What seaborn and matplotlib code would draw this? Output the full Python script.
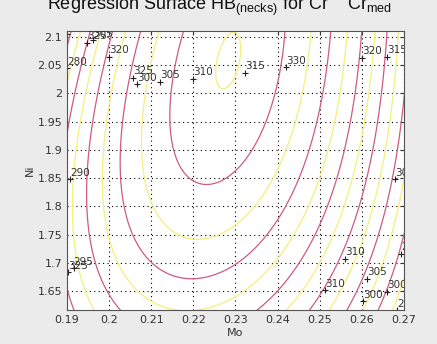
import numpy as np
import matplotlib
matplotlib.use("Agg")
import matplotlib.pyplot as plt
import seaborn as sns

# points traced along the magenta contours of the reference (Mo, Ni, HB level)
trace_level = [330] * 11 + [325] * 14 + [320] * 15 + [315] * 6 + [310] * 3
trace_mo = [0.2152, 0.2145, 0.2168, 0.2199, 0.2216, 0.2263, 0.2327, 0.2422, 0.2418, 0.2399, 0.2311,
            0.2090, 0.2057, 0.2038, 0.2031, 0.2057, 0.2114, 0.2180, 0.2263, 0.2311, 0.2399, 0.2439, 0.2486, 0.2510, 0.2534,
            0.1997, 0.1971, 0.1955, 0.1950, 0.1955, 0.1971, 0.2002, 0.2334, 0.2406, 0.2453, 0.2496, 0.2548, 0.2572, 0.2590, 0.2600,
            0.1947, 0.1919, 0.1902, 0.2667, 0.2636, 0.2603,
            0.2695, 0.2683, 0.2660]
trace_ni = [2.012, 1.936, 1.848, 2.112, 1.822, 1.831, 1.866, 2.112, 2.054, 1.972, 1.848,
            2.112, 2.054, 1.984, 1.848, 1.748, 1.690, 1.660, 1.672, 1.704, 1.787, 1.848, 1.936, 2.012, 2.112,
            2.072, 2.012, 1.936, 1.848, 1.787, 1.729, 1.623, 1.616, 1.676, 1.711, 1.778, 1.883, 1.950, 2.063, 2.120,
            2.105, 2.012, 1.924, 2.086, 1.945, 1.778,
            2.016, 1.945, 1.778]

magenta_levels = [280, 285, 290, 295, 300, 305, 310, 315, 320, 325, 330]
yellow_levels = [282.5, 287.5, 292.5, 297.5, 302.5, 307.5, 312.5, 317.5, 322.5, 327.5, 332]

# contour labels as they appear in the reference
label_mo = [0.1900, 0.1947, 0.1962, 0.2000, 0.1900, 0.2057, 0.2066, 0.2121, 0.2199, 0.2323, 0.2420,
            0.2600, 0.2660, 0.1907, 0.1902, 0.1916, 0.2679, 0.2560, 0.2513, 0.2612, 0.2603, 0.2660, 0.2683, 0.2694]
label_ni = [2.105, 2.090, 2.094, 2.065, 2.045, 2.028, 2.016, 2.021, 2.026, 2.037, 2.047,
            2.063, 2.065, 1.848, 1.683, 1.690, 1.848, 1.707, 1.651, 1.672, 1.632, 1.649, 1.616, 1.716]
label_txt = ["310", "325", "305", "320", "280", "325", "300", "305", "310", "315", "330",
             "320", "315", "290", "325", "295", "300", "310", "310", "305", "300", "300", "295", "295"]

x_ticks = [0.19, 0.20, 0.21, 0.22, 0.23, 0.24, 0.25, 0.26, 0.27]
y_ticks = [1.65, 1.70, 1.75, 1.80, 1.85, 1.90, 1.95, 2.00, 2.05, 2.10]

# cubic regression surface HB(Mo, Ni) fitted to the traced contours
mo = np.array(trace_mo)
ni = np.array(trace_ni)


def terms(mo_v, ni_v):
    u = (mo_v - 0.225) / 0.01
    v = (ni_v - 1.9) / 0.1
    return [np.ones_like(u), u, v, u * u, u * v, v * v, u ** 3, u * u * v, u * v * v, v ** 3]


A = np.column_stack(terms(mo, ni))
coef, *_ = np.linalg.lstsq(A, np.array(trace_level, float), rcond=None)

gx, gy = np.meshgrid(np.linspace(0.185, 0.275, 300), np.linspace(1.60, 2.13, 300))
Z = sum(c * t for c, t in zip(coef, terms(gx, gy)))

sns.set_style("white")
plt.rcParams["font.family"] = ["DejaVu Sans"]
plt.rcParams["mathtext.fontset"] = "custom"
plt.rcParams["mathtext.rm"] = "Liberation Sans"

fig = plt.figure(figsize=(4.37, 3.44), dpi=100, facecolor="#ebebeb")
ax = fig.add_axes([0.1533, 0.0988, 0.7712, 0.8111])
ax.set_facecolor("white")

ax.contour(gx, gy, Z, levels=yellow_levels, colors="#f4f07a", linewidths=0.9)
ax.contour(gx, gy, Z, levels=magenta_levels, colors="#cf5a82", linewidths=0.9)

for m, n, t in zip(label_mo, label_ni, label_txt):
    ax.plot(m, n, marker="+", color="#222222", ms=5, mew=0.8)
    ax.annotate(t, (m, n), xytext=(0, 1), textcoords="offset points", fontsize=7.5,
                color="#333333", ha="left", va="bottom", annotation_clip=False, clip_on=True)

ax.set_xlim(0.19, 0.27)
ax.set_ylim(1.6163, 2.1106)
ax.set_xticks(x_ticks)
ax.set_yticks(y_ticks)
ax.set_xticklabels(["%g" % t for t in x_ticks])
ax.set_yticklabels(["%g" % t for t in y_ticks])
ax.tick_params(direction="in", length=3, labelsize=8, colors="#333333", top=True, right=True)
ax.grid(True, color="black", linestyle=(0, (1, 3)), linewidth=0.8)
for s in ax.spines.values():
    s.set_color("#555555")
    s.set_linewidth(0.8)
ax.set_xlabel("Mo", fontsize=8, color="#333333", labelpad=2)
ax.set_ylabel("Ni", fontsize=8, color="#333333", labelpad=2)

fig.text(0.1075, 1.016, r"Regression Surface HB$_{\mathrm{(necks)}}$ for Cr    Cr$_{\mathrm{med}}$",
         ha="left", va="top", fontsize=13, color="#111111", family=["Liberation Sans"])

fig.savefig("out.png", dpi=100, facecolor=fig.get_facecolor())
